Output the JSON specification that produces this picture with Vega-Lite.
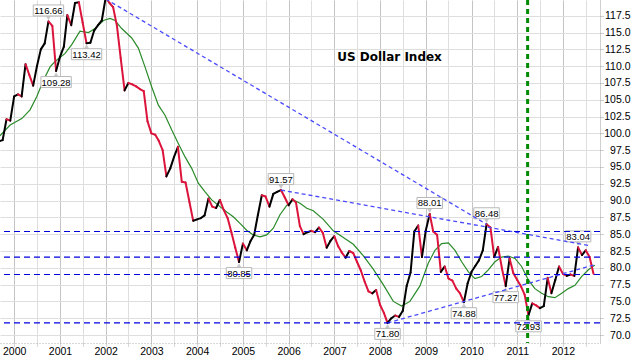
{
  "$schema": "https://vega.github.io/schema/vega-lite/v6.json",
  "width": 600,
  "height": 343,
  "autosize": {"type": "none"},
  "padding": {"left": 0, "top": 0, "right": 34, "bottom": 15},
  "background": "white",
  "config": {
    "view": {"stroke": null},
    "axis": {"labelFont": "Liberation Sans", "labelFontSize": 10.5, "labelColor": "#000000", "title": null}
  },
  "datasets": {
    "price": [
      {"date": "1999-09-01", "value": 98.8}, {"date": "1999-10-01", "value": 99.0}, {"date": "1999-11-01", "value": 102.1}, {"date": "1999-12-01", "value": 101.9},
      {"date": "2000-01-01", "value": 105.5}, {"date": "2000-02-01", "value": 105.8}, {"date": "2000-03-01", "value": 105.5}, {"date": "2000-04-01", "value": 110.3},
      {"date": "2000-05-01", "value": 108.7}, {"date": "2000-06-01", "value": 107.1}, {"date": "2000-07-01", "value": 110.0}, {"date": "2000-08-01", "value": 112.5},
      {"date": "2000-09-01", "value": 113.4}, {"date": "2000-10-01", "value": 116.66}, {"date": "2000-11-01", "value": 116.0}, {"date": "2000-12-01", "value": 109.28},
      {"date": "2001-01-01", "value": 111.4}, {"date": "2001-02-01", "value": 112.9}, {"date": "2001-03-01", "value": 117.6}, {"date": "2001-04-01", "value": 116.1},
      {"date": "2001-05-01", "value": 119.4}, {"date": "2001-06-01", "value": 119.5}, {"date": "2001-07-01", "value": 116.5}, {"date": "2001-08-01", "value": 113.42},
      {"date": "2001-09-01", "value": 113.5}, {"date": "2001-10-01", "value": 115.3}, {"date": "2001-11-01", "value": 116.1}, {"date": "2001-12-01", "value": 116.8},
      {"date": "2002-01-01", "value": 120.2}, {"date": "2002-02-01", "value": 119.4}, {"date": "2002-03-01", "value": 118.8}, {"date": "2002-04-01", "value": 116.0},
      {"date": "2002-05-01", "value": 111.2}, {"date": "2002-06-01", "value": 106.4}, {"date": "2002-07-01", "value": 107.5}, {"date": "2002-08-01", "value": 107.3},
      {"date": "2002-09-01", "value": 107.0}, {"date": "2002-10-01", "value": 106.6}, {"date": "2002-11-01", "value": 106.3}, {"date": "2002-12-01", "value": 101.8},
      {"date": "2003-01-01", "value": 100.0}, {"date": "2003-02-01", "value": 99.8}, {"date": "2003-03-01", "value": 98.9}, {"date": "2003-04-01", "value": 97.5},
      {"date": "2003-05-01", "value": 93.6}, {"date": "2003-06-01", "value": 94.8}, {"date": "2003-07-01", "value": 96.5}, {"date": "2003-08-01", "value": 98.0},
      {"date": "2003-09-01", "value": 92.8}, {"date": "2003-10-01", "value": 92.7}, {"date": "2003-11-01", "value": 89.8}, {"date": "2003-12-01", "value": 87.0},
      {"date": "2004-01-01", "value": 87.2}, {"date": "2004-02-01", "value": 87.4}, {"date": "2004-03-01", "value": 87.8}, {"date": "2004-04-01", "value": 90.3},
      {"date": "2004-05-01", "value": 89.1}, {"date": "2004-06-01", "value": 88.9}, {"date": "2004-07-01", "value": 90.1}, {"date": "2004-08-01", "value": 88.6},
      {"date": "2004-09-01", "value": 87.4}, {"date": "2004-10-01", "value": 85.3}, {"date": "2004-11-01", "value": 83.0}, {"date": "2004-12-01", "value": 80.85},
      {"date": "2005-01-01", "value": 83.6}, {"date": "2005-02-01", "value": 82.6}, {"date": "2005-03-01", "value": 83.9}, {"date": "2005-04-01", "value": 84.9},
      {"date": "2005-05-01", "value": 87.9}, {"date": "2005-06-01", "value": 90.8}, {"date": "2005-07-01", "value": 90.6}, {"date": "2005-08-01", "value": 89.1},
      {"date": "2005-09-01", "value": 91.0}, {"date": "2005-10-01", "value": 91.3}, {"date": "2005-11-01", "value": 91.57}, {"date": "2005-12-01", "value": 90.5},
      {"date": "2006-01-01", "value": 89.3}, {"date": "2006-02-01", "value": 90.2}, {"date": "2006-03-01", "value": 89.7}, {"date": "2006-04-01", "value": 86.2},
      {"date": "2006-05-01", "value": 85.0}, {"date": "2006-06-01", "value": 85.3}, {"date": "2006-07-01", "value": 85.5}, {"date": "2006-08-01", "value": 85.3},
      {"date": "2006-09-01", "value": 86.0}, {"date": "2006-10-01", "value": 85.2}, {"date": "2006-11-01", "value": 83.0}, {"date": "2006-12-01", "value": 84.0},
      {"date": "2007-01-01", "value": 84.7}, {"date": "2007-02-01", "value": 83.2}, {"date": "2007-03-01", "value": 82.3}, {"date": "2007-04-01", "value": 81.5},
      {"date": "2007-05-01", "value": 82.5}, {"date": "2007-06-01", "value": 82.2}, {"date": "2007-07-01", "value": 80.9}, {"date": "2007-08-01", "value": 79.6},
      {"date": "2007-09-01", "value": 77.9}, {"date": "2007-10-01", "value": 76.5}, {"date": "2007-11-01", "value": 76.2}, {"date": "2007-12-01", "value": 76.7},
      {"date": "2008-01-01", "value": 74.5}, {"date": "2008-02-01", "value": 73.3}, {"date": "2008-03-01", "value": 71.8}, {"date": "2008-04-01", "value": 72.5},
      {"date": "2008-05-01", "value": 72.9}, {"date": "2008-06-01", "value": 72.7}, {"date": "2008-07-01", "value": 73.6}, {"date": "2008-08-01", "value": 77.3},
      {"date": "2008-09-01", "value": 79.3}, {"date": "2008-10-01", "value": 85.4}, {"date": "2008-11-01", "value": 86.3}, {"date": "2008-12-01", "value": 81.6},
      {"date": "2009-01-01", "value": 85.6}, {"date": "2009-02-01", "value": 88.01}, {"date": "2009-03-01", "value": 85.4}, {"date": "2009-04-01", "value": 84.9},
      {"date": "2009-05-01", "value": 79.4}, {"date": "2009-06-01", "value": 80.2}, {"date": "2009-07-01", "value": 78.4}, {"date": "2009-08-01", "value": 78.1},
      {"date": "2009-09-01", "value": 76.9}, {"date": "2009-10-01", "value": 76.2}, {"date": "2009-11-01", "value": 74.88}, {"date": "2009-12-01", "value": 77.7},
      {"date": "2010-01-01", "value": 79.4}, {"date": "2010-02-01", "value": 80.3}, {"date": "2010-03-01", "value": 81.1}, {"date": "2010-04-01", "value": 82.6},
      {"date": "2010-05-01", "value": 86.48}, {"date": "2010-06-01", "value": 86.0}, {"date": "2010-07-01", "value": 81.6}, {"date": "2010-08-01", "value": 83.1},
      {"date": "2010-09-01", "value": 79.9}, {"date": "2010-10-01", "value": 77.27}, {"date": "2010-11-01", "value": 81.4}, {"date": "2010-12-01", "value": 79.2},
      {"date": "2011-01-01", "value": 78.2}, {"date": "2011-02-01", "value": 77.2}, {"date": "2011-03-01", "value": 76.0}, {"date": "2011-04-01", "value": 72.93},
      {"date": "2011-05-01", "value": 74.7}, {"date": "2011-06-01", "value": 74.4}, {"date": "2011-07-01", "value": 74.0}, {"date": "2011-08-01", "value": 74.3},
      {"date": "2011-09-01", "value": 78.5}, {"date": "2011-10-01", "value": 76.2}, {"date": "2011-11-01", "value": 78.2}, {"date": "2011-12-01", "value": 80.2},
      {"date": "2012-01-01", "value": 79.1}, {"date": "2012-02-01", "value": 78.8}, {"date": "2012-03-01", "value": 79.0}, {"date": "2012-04-01", "value": 78.8},
      {"date": "2012-05-01", "value": 83.04}, {"date": "2012-06-01", "value": 81.9}, {"date": "2012-07-01", "value": 82.6}, {"date": "2012-08-01", "value": 81.6},
      {"date": "2012-09-01", "value": 79.1}
    ],
    "ma": [
      {"date": "1999-09-01", "value": 99.5}, {"date": "1999-11-30", "value": 101.25}, {"date": "2000-03-02", "value": 102.2}, {"date": "2000-05-07", "value": 103.5},
      {"date": "2000-06-30", "value": 105.5}, {"date": "2000-08-22", "value": 107.9}, {"date": "2000-10-14", "value": 109.9}, {"date": "2000-11-23", "value": 110.7},
      {"date": "2001-02-11", "value": 111.9}, {"date": "2001-04-05", "value": 113.2}, {"date": "2001-06-10", "value": 115.2}, {"date": "2001-08-16", "value": 115.0},
      {"date": "2001-10-08", "value": 115.6}, {"date": "2001-12-14", "value": 116.8}, {"date": "2002-02-05", "value": 117.1}, {"date": "2002-03-17", "value": 116.8},
      {"date": "2002-05-09", "value": 115.6}, {"date": "2002-07-28", "value": 114.2}, {"date": "2002-09-19", "value": 112.7}, {"date": "2002-11-11", "value": 109.9},
      {"date": "2003-01-04", "value": 106.9}, {"date": "2003-02-26", "value": 104.2}, {"date": "2003-04-20", "value": 102.7}, {"date": "2003-06-13", "value": 100.5},
      {"date": "2003-08-04", "value": 98.5}, {"date": "2003-09-27", "value": 96.5}, {"date": "2003-11-19", "value": 94.8}, {"date": "2004-01-11", "value": 92.6},
      {"date": "2004-03-05", "value": 91.3}, {"date": "2004-04-27", "value": 90.1}, {"date": "2004-07-02", "value": 89.1}, {"date": "2004-08-25", "value": 88.3},
      {"date": "2004-10-16", "value": 87.6}, {"date": "2004-12-09", "value": 86.6}, {"date": "2005-01-31", "value": 85.6}, {"date": "2005-03-25", "value": 84.9},
      {"date": "2005-05-18", "value": 84.6}, {"date": "2005-07-10", "value": 84.9}, {"date": "2005-09-01", "value": 85.9}, {"date": "2005-10-24", "value": 87.9},
      {"date": "2005-12-17", "value": 89.3}, {"date": "2006-02-08", "value": 90.1}, {"date": "2006-04-02", "value": 89.6}, {"date": "2006-05-26", "value": 88.85},
      {"date": "2006-07-17", "value": 88.5}, {"date": "2006-10-05", "value": 87.2}, {"date": "2006-12-24", "value": 85.5}, {"date": "2007-03-14", "value": 84.5},
      {"date": "2007-06-02", "value": 83.5}, {"date": "2007-08-20", "value": 81.8}, {"date": "2007-11-08", "value": 79.8}, {"date": "2008-01-27", "value": 77.5},
      {"date": "2008-04-16", "value": 75.0}, {"date": "2008-06-22", "value": 74.3}, {"date": "2008-08-27", "value": 75.0}, {"date": "2008-11-15", "value": 77.3},
      {"date": "2009-01-21", "value": 80.7}, {"date": "2009-03-15", "value": 82.6}, {"date": "2009-05-07", "value": 83.6}, {"date": "2009-06-30", "value": 83.7},
      {"date": "2009-08-22", "value": 82.6}, {"date": "2009-10-14", "value": 80.9}, {"date": "2009-12-07", "value": 79.4}, {"date": "2010-01-28", "value": 78.4},
      {"date": "2010-03-23", "value": 78.7}, {"date": "2010-05-15", "value": 79.7}, {"date": "2010-07-07", "value": 80.9}, {"date": "2010-08-29", "value": 81.6},
      {"date": "2010-10-22", "value": 81.75}, {"date": "2010-12-14", "value": 81.4}, {"date": "2011-02-05", "value": 80.2}, {"date": "2011-03-31", "value": 78.2},
      {"date": "2011-05-22", "value": 76.9}, {"date": "2011-07-15", "value": 76.2}, {"date": "2011-09-06", "value": 75.7}, {"date": "2011-10-29", "value": 75.55},
      {"date": "2011-12-22", "value": 76.2}, {"date": "2012-02-13", "value": 76.9}, {"date": "2012-04-06", "value": 77.4}, {"date": "2012-05-29", "value": 78.7},
      {"date": "2012-07-22", "value": 79.7}, {"date": "2012-09-12", "value": 80.4}
    ],
    "labels": [
      {"date": "2000-10-01", "value": 116.66, "label": "116.66", "pos": "above"},
      {"date": "2000-12-01", "value": 109.28, "label": "109.28", "pos": "below"},
      {"date": "2001-08-01", "value": 113.42, "label": "113.42", "pos": "below"},
      {"date": "2004-12-01", "value": 80.85, "label": "80.85", "pos": "below"},
      {"date": "2005-11-01", "value": 91.57, "label": "91.57", "pos": "above"},
      {"date": "2008-03-01", "value": 71.8, "label": "71.80", "pos": "below"},
      {"date": "2009-02-01", "value": 88.01, "label": "88.01", "pos": "above"},
      {"date": "2009-11-01", "value": 74.88, "label": "74.88", "pos": "below"},
      {"date": "2010-05-01", "value": 86.48, "label": "86.48", "pos": "above"},
      {"date": "2010-10-01", "value": 77.27, "label": "77.27", "pos": "below"},
      {"date": "2011-04-01", "value": 72.93, "label": "72.93", "pos": "below"},
      {"date": "2012-05-01", "value": 83.04, "label": "83.04", "pos": "above"}
    ],
    "trend": [
      {"line": "a", "date": "2002-01-01", "value": 120.0}, {"line": "a", "date": "2010-05-01", "value": 86.48},
      {"line": "b", "date": "2005-11-01", "value": 91.57}, {"line": "b", "date": "2012-08-04", "value": 83.3},
      {"line": "c", "date": "2008-03-01", "value": 71.8}, {"line": "c", "date": "2012-09-20", "value": 80.5}
    ],
    "levels": [{"value": 85.4}, {"value": 81.6}, {"value": 79.0}, {"value": 71.8}],
    "events": [{"date": "2011-03-25"}],
    "notes": [{"date": "2008-03-17", "value": 111.41, "text": "US Dollar Index"}]
  },
  "encoding": {
    "x": {
      "field": "date", "type": "temporal",
      "scale": {"type": "utc", "domain": [{"year": 1999, "month": 9, "date": 10, "utc": true}, {"year": 2012, "month": 10, "date": 23, "utc": true}]},
      "axis": {
        "values": [
          {"year": 2000, "month": 1, "date": 1, "utc": true}, {"year": 2000, "month": 7, "date": 1, "utc": true},
          {"year": 2001, "month": 1, "date": 1, "utc": true}, {"year": 2001, "month": 7, "date": 1, "utc": true},
          {"year": 2002, "month": 1, "date": 1, "utc": true}, {"year": 2002, "month": 7, "date": 1, "utc": true},
          {"year": 2003, "month": 1, "date": 1, "utc": true}, {"year": 2003, "month": 7, "date": 1, "utc": true},
          {"year": 2004, "month": 1, "date": 1, "utc": true}, {"year": 2004, "month": 7, "date": 1, "utc": true},
          {"year": 2005, "month": 1, "date": 1, "utc": true}, {"year": 2005, "month": 7, "date": 1, "utc": true},
          {"year": 2006, "month": 1, "date": 1, "utc": true}, {"year": 2006, "month": 7, "date": 1, "utc": true},
          {"year": 2007, "month": 1, "date": 1, "utc": true}, {"year": 2007, "month": 7, "date": 1, "utc": true},
          {"year": 2008, "month": 1, "date": 1, "utc": true}, {"year": 2008, "month": 7, "date": 1, "utc": true},
          {"year": 2009, "month": 1, "date": 1, "utc": true}, {"year": 2009, "month": 7, "date": 1, "utc": true},
          {"year": 2010, "month": 1, "date": 1, "utc": true}, {"year": 2010, "month": 7, "date": 1, "utc": true},
          {"year": 2011, "month": 1, "date": 1, "utc": true}, {"year": 2011, "month": 7, "date": 1, "utc": true},
          {"year": 2012, "month": 1, "date": 1, "utc": true}, {"year": 2012, "month": 7, "date": 1, "utc": true}
        ],
        "labelExpr": "utcmonth(datum.value) == 0 ? utcFormat(datum.value, '%Y') : ''",
        "labelAngle": 0, "labelAlign": "center", "labelBaseline": "top", "labelPadding": 0, "labelOverlap": false, "labelFlush": false,
        "grid": true,
        "gridColor": {"condition": {"test": "utcmonth(datum.value) == 0", "value": "#c4c4c4"}, "value": "#dedede"},
        "gridWidth": 1,
        "domainColor": "#b0b0b0", "domainDash": [1, 2],
        "tickColor": "#b0b0b0", "tickSize": 3, "tickDash": [1, 1]
      }
    },
    "y": {
      "field": "value", "type": "quantitative",
      "scale": {"domain": [68.81, 119.85], "nice": false, "zero": false},
      "axis": {
        "orient": "right",
        "values": [70, 72.5, 75, 77.5, 80, 82.5, 85, 87.5, 90, 92.5, 95, 97.5, 100, 102.5, 105, 107.5, 110, 112.5, 115, 117.5, 120],
        "format": ".1f",
        "labelAlign": "right", "labelPadding": 27, "labelBaseline": "middle", "labelFlush": false, "labelOverlap": false,
        "grid": true, "gridColor": "#dedede", "gridWidth": 1,
        "domainColor": "#a0a0a0", "domainDash": [1, 1],
        "tickColor": "#a0a0a0", "tickSize": 3, "tickDash": [1, 1]
      }
    }
  },
  "layer": [
    {
      "data": {"name": "ma"},
      "mark": {"type": "line", "color": "#2a8a2a", "strokeWidth": 1.2, "clip": true}
    },
    {
      "data": {"name": "price"},
      "transform": [
        {"window": [{"op": "lag", "field": "value", "as": "prev"}, {"op": "lag", "field": "date", "as": "prevDate"}], "sort": [{"field": "date"}]},
        {"filter": "datum.prev != null"}
      ],
      "mark": {"type": "rule", "strokeWidth": 2, "strokeCap": "round", "clip": true},
      "encoding": {
        "x2": {"field": "prevDate"},
        "y2": {"field": "prev"},
        "color": {"condition": {"test": "datum.value >= datum.prev", "value": "#000000"}, "value": "#dc143c"}
      }
    },
    {
      "data": {"name": "labels"},
      "mark": {"type": "point", "filled": true, "size": 45, "color": "#c8c8c8", "opacity": 1, "yOffset": {"expr": "datum.pos == 'above' ? -4 : 4"}},
      "encoding": {
        "shape": {"field": "pos", "type": "nominal", "scale": {"domain": ["above", "below"], "range": ["triangle-down", "triangle-up"]}, "legend": null}
      }
    },
    {
      "data": {"name": "labels"},
      "mark": {"type": "rect", "fill": "white", "stroke": "#b8b8b8", "strokeWidth": 1, "height": 11, "width": {"expr": "length(datum.label) * 4.9 + 1"}, "yOffset": {"expr": "datum.pos == 'above' ? -11 : 11"}}
    },
    {
      "data": {"name": "labels"},
      "mark": {"type": "text", "font": "Liberation Sans", "fontSize": 9.5, "color": "#000000", "align": "center", "baseline": "middle", "yOffset": {"expr": "datum.pos == 'above' ? -10.5 : 11.5"}},
      "encoding": {"text": {"field": "label"}}
    },
    {
      "data": {"name": "trend"},
      "mark": {"type": "line", "color": "#4a4aff", "strokeWidth": 1.3, "strokeDash": [4, 3], "clip": true},
      "encoding": {"detail": {"field": "line"}}
    },
    {
      "data": {"name": "levels"},
      "mark": {"type": "rule", "color": "#0000dd", "strokeWidth": 1.2, "strokeDash": [6, 4]},
      "encoding": {"x": null}
    },
    {
      "data": {"name": "events"},
      "mark": {"type": "rule", "color": "#008a00", "strokeWidth": 3, "strokeDash": [5, 4]},
      "encoding": {"y": null}
    },
    {
      "data": {"name": "notes"},
      "mark": {"type": "text", "font": "DejaVu Sans", "fontWeight": "bold", "fontSize": 12, "color": "#000000", "align": "center", "baseline": "middle"},
      "encoding": {"text": {"field": "text"}}
    }
  ]
}
